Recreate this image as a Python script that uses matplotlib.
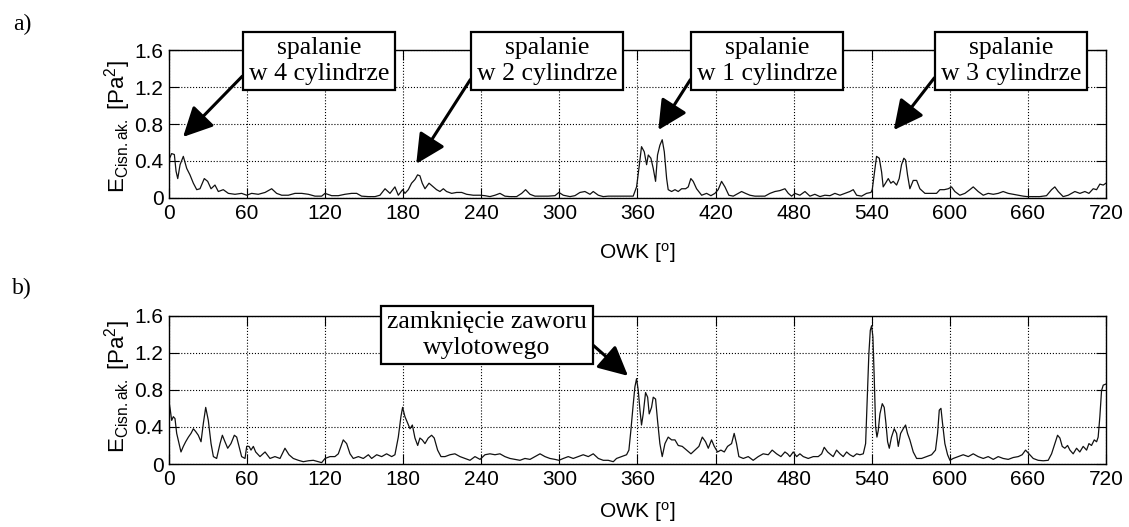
import matplotlib
matplotlib.use("Agg")
import matplotlib.pyplot as plt

plt.rcParams['font.family'] = ['Liberation Sans', 'DejaVu Sans']
plt.rcParams['mathtext.fontset'] = 'custom'
plt.rcParams['mathtext.rm'] = 'Liberation Sans'
plt.rcParams['mathtext.it'] = 'Liberation Sans:italic'

# panel a) - combustion in the cylinders
owk_a = [0, 0.5, 2.0, 4.1, 5.4, 6.7, 8.5, 11.0, 13.6, 16.1, 18.7, 21.3, 23.8, 27.1, 29.7,
         32.3, 35.3, 37.9, 41.7, 45.6, 50.7, 55.8, 59.7, 63.5, 68.6, 73.8, 78.9, 82.7, 86.6,
         91.7, 96.8, 102, 107.1, 112.2, 117.3, 119.9, 125, 130.1, 135.2, 140.3, 144.2, 148,
         153.2, 158.3, 162.1, 166, 169.8, 173.6, 176.2, 179.5, 181.3, 183.9, 186.4, 189, 191,
         192.8, 194.6, 196.7, 199.8, 203.1, 205.6, 208.2, 210.8, 213.3, 217.2, 221, 224.9,
         228.7, 233.8, 239,
         242.8, 246.6, 250.5, 254.3, 258.1, 262, 267.1, 271, 274, 277.4, 281.2, 286.3, 291.4,
         296.6, 299.6, 303, 308.1, 311.9, 315.8, 319.6, 323.5, 326, 329.9, 333.7, 337.5, 341.4,
         345.2, 350.4, 356.7, 359.3, 361.1, 363.1, 365.2, 367, 368.3, 370.3, 372.1, 373.9,
         375.4, 377.2, 379, 380.6, 382.4, 383.6, 386.2, 388.8, 391.3, 393.9, 397, 399, 401,
         402.8, 405.4, 409.3, 413.1, 416.4, 419.5, 422, 424.6, 427.2, 430.2, 433.6, 437.4, 440,
         443, 446.4, 450.2, 454.1, 457.9, 461.8, 465.6, 469.4, 473.3,
         475.9, 478.4, 481, 484.8, 488.7, 492.5, 496.3, 500.2, 504, 507.9, 511.7, 515.6, 519.4,
         523.2, 525.8, 528.4, 532.2, 536, 539.4, 540.4, 541.9, 543.7, 545.8, 547.6, 548.8,
         550.6, 552.7, 554.7, 556.5, 559.1, 561.1, 562.9, 564.7, 566, 567.5, 569.3, 571.9,
         574.5, 577, 580.9, 586, 589.8, 592.4, 595.7, 598.8, 601.3, 603.9, 607.7, 611.6, 615.4,
         618, 621.8, 625.7, 629.5, 633.4, 637.2, 641, 644.9, 648.7, 652.6, 656.4, 659.5, 664.1,
         669.2, 674.3, 678.2, 680.7, 683.3, 687.1, 691, 696.1, 700, 703.8, 706.9, 710.2, 712.8,
         715.3, 717.9, 720]
e_a = [0.25, 0.43, 0.48, 0.47, 0.29, 0.21, 0.36, 0.45, 0.32, 0.25, 0.16, 0.09, 0.10, 0.21, 0.18,
       0.10, 0.14, 0.07, 0.09, 0.05, 0.04, 0.05, 0.03, 0.05, 0.04, 0.06, 0.10, 0.05, 0.03,
       0.03, 0.05, 0.05, 0.04, 0.02, 0.02, 0.05, 0.025, 0.025, 0.04, 0.05, 0.05, 0.02,
       0.015, 0.015, 0.03, 0.10, 0.05, 0.12, 0.03, 0.09, 0.05, 0.09, 0.16, 0.20, 0.25,
       0.24, 0.16, 0.10, 0.16, 0.12, 0.09, 0.07, 0.10, 0.07, 0.05, 0.06, 0.06,
       0.04, 0.03, 0.03,
       0.025, 0.015, 0.03, 0.05, 0.02, 0.015, 0.015, 0.05, 0.09, 0.04, 0.02, 0.02, 0.02,
       0.025, 0.06, 0.03, 0.015, 0.025, 0.06, 0.07, 0.04, 0.07, 0.03, 0.015, 0.02, 0.02,
       0.02, 0.02, 0.02, 0.12, 0.32, 0.555, 0.50, 0.36, 0.465, 0.43, 0.32, 0.18,
       0.465, 0.57, 0.63, 0.50, 0.21, 0.09, 0.07, 0.09, 0.07, 0.10, 0.10, 0.12, 0.21,
       0.18, 0.10, 0.03, 0.05, 0.025, 0.05, 0.09, 0.18, 0.12, 0.03, 0.02, 0.05, 0.07,
       0.05, 0.03, 0.02, 0.02, 0.02, 0.05, 0.07, 0.08, 0.10,
       0.05, 0.02, 0.05, 0.03, 0.07, 0.02, 0.04, 0.015, 0.03, 0.025, 0.05, 0.03, 0.05,
       0.07, 0.09, 0.03, 0.02, 0.05, 0.06, 0.09, 0.25, 0.45, 0.43, 0.28, 0.12,
       0.16, 0.21, 0.16, 0.18, 0.14, 0.21, 0.36, 0.43, 0.41, 0.25, 0.10, 0.19,
       0.19, 0.10, 0.05, 0.05, 0.05, 0.09, 0.09, 0.10, 0.12, 0.07, 0.03, 0.05, 0.09,
       0.12, 0.07, 0.03, 0.05, 0.04, 0.05, 0.07, 0.05, 0.04, 0.03, 0.02, 0.015, 0.015,
       0.015, 0.025, 0.09, 0.12, 0.07, 0.015, 0.03, 0.07, 0.05, 0.07, 0.05, 0.10, 0.09,
       0.15, 0.14, 0.16]

# panel b) - exhaust valve closing
owk_b = [0, 1.0, 2.05, 3.3, 4.6, 5.9, 7.7, 9.2, 11, 12.8, 14.9, 16.9, 18.7, 20.5, 22.5, 24.6,
         26.4, 28.2, 30.2, 32.3, 34.1, 36.6, 39.2, 41, 43, 45.1, 47.6, 50.2, 52, 53.8, 55.8,
         58.4, 59.7, 61.5, 63, 64.8, 66.6, 69.9, 73.8, 77.6, 81.4, 85.3, 89.1, 92.2, 95.5,
         99.4, 103.2, 107.1, 110.9, 114.7, 117.3, 119.9, 123.7, 127.5, 130.1, 133.9, 136.5,
         139.1, 141.6, 145.5, 149.3, 153.2, 155.7, 159.6, 163.4, 167.2, 171.1, 173.6, 176.2,
         178.2, 179.5, 181.3, 183.4, 185.2, 187, 189, 191.1, 192.8, 194.6, 196.7, 199.2,
         201.8, 203.8, 206.4, 209, 212.1, 215.9, 219.7, 223.6, 227.4, 231.3, 235.1, 239,
         242.8, 246.6, 250.5, 254.3, 258.1, 262, 265.8, 269.7, 273.5, 277.4, 281.2, 285.1,
         288.9, 292.7, 296.6, 299.6, 303, 306.8, 310.6, 314.5, 318.3, 322.2, 326, 329.9,
         333.7, 337.5, 341.4, 343.9, 347.8, 351.6, 353.4, 354.9, 356.5, 358, 359.3, 360.6,
         361.9, 363.1, 364.4, 366.2, 367.8, 369, 370.8, 372.1, 373.9, 375.4, 377.2, 379,
         381.1, 383.6, 386.2, 388.8, 391.3, 394.4, 397.7, 401.1, 404.1, 407.2, 409.8, 412.3,
         414.4, 416.9, 419, 421.5, 424.1, 426.7, 429.2, 432.3, 434.3, 436.1, 437.9, 441.3,
         445.1, 448.9, 452.8, 456.6, 460.5, 463.5, 466.9, 470.2, 473.3,
         475.3, 477.1, 479.7, 482.3, 484.8, 487.4, 491.2, 495.1, 498.9, 501.5, 503.5, 506.1,
         508.6, 510.4, 513, 515.6, 518.1, 520.7, 523.2, 525.8, 528.4, 530.9, 533.5, 535.3,
         536.8, 537.8, 538.9, 539.9, 540.9, 541.9, 543, 544, 545, 546.3, 548.1, 549.6, 550.9,
         552.2, 553.5, 555.2, 557.3, 559.1, 560.4, 562.2, 564.2, 566, 567.5, 569.3, 571.9,
         574.5, 578.3, 582.1, 586, 589, 590.6, 591.9, 593.2, 594.4, 596.2, 598.3, 600.1,
         602.6, 606.5, 610.3, 614.2, 618, 621.8, 625.7, 629.5, 633.4, 637.2, 641, 644.9,
         648.7, 652.6, 655.6, 658.2, 660.8, 664.1, 667.9, 671.8, 675.6, 678.2, 680.7, 682.8,
         684.6, 686.4, 688.4, 690.5, 692.3, 694.8, 697.4, 699.9, 702.5, 705.1, 706.9, 708.9,
         711, 712.8, 714, 715.3, 716.6, 717.9, 719.7]
e_b = [0.67, 0.58, 0.47, 0.51, 0.49, 0.33, 0.22, 0.13, 0.19, 0.24, 0.29, 0.33, 0.38, 0.35, 0.31,
       0.24, 0.44, 0.61, 0.47, 0.22, 0.08, 0.06, 0.22, 0.31, 0.24, 0.17, 0.22, 0.31, 0.29,
       0.19, 0.08, 0.06, 0.19, 0.19, 0.15, 0.19, 0.13, 0.08, 0.13, 0.06, 0.08, 0.06, 0.17,
       0.10, 0.06, 0.04, 0.025, 0.035, 0.04, 0.025, 0.015, 0.06, 0.08, 0.08, 0.11, 0.26,
       0.22, 0.11, 0.06, 0.08, 0.06, 0.10, 0.06, 0.10, 0.08, 0.11, 0.08, 0.10, 0.29,
       0.51, 0.61, 0.51, 0.44, 0.38, 0.42, 0.28, 0.20, 0.28, 0.26, 0.22, 0.28,
       0.31, 0.28, 0.15, 0.08, 0.08, 0.10, 0.11, 0.08, 0.06, 0.04, 0.08, 0.05,
       0.10, 0.11, 0.10, 0.11, 0.08, 0.06, 0.05, 0.04, 0.06, 0.05, 0.08, 0.11,
       0.08, 0.06, 0.05, 0.04, 0.06, 0.08, 0.06, 0.08, 0.10, 0.08, 0.11, 0.06,
       0.04, 0.04, 0.025, 0.06, 0.08, 0.10, 0.15, 0.36, 0.61, 0.83, 0.92, 0.79,
       0.58, 0.42, 0.54, 0.77, 0.72, 0.54, 0.61, 0.72, 0.70, 0.47, 0.22, 0.08,
       0.22, 0.29, 0.26, 0.26, 0.20, 0.19, 0.15, 0.11, 0.15, 0.19, 0.29, 0.24,
       0.17, 0.26, 0.19, 0.13, 0.15, 0.13, 0.19, 0.22, 0.33, 0.22, 0.08, 0.06,
       0.08, 0.04, 0.08, 0.11, 0.10, 0.15, 0.11, 0.08, 0.13,
       0.11, 0.08, 0.13, 0.08, 0.11, 0.08, 0.06, 0.08, 0.08, 0.11, 0.18, 0.13,
       0.10, 0.08, 0.15, 0.11, 0.08, 0.13, 0.10, 0.08, 0.11, 0.10, 0.11, 0.22,
       0.79, 1.19, 1.44, 1.49, 1.37, 0.94, 0.40, 0.29, 0.36, 0.54, 0.65, 0.61, 0.44,
       0.24, 0.17, 0.29, 0.38, 0.33, 0.19, 0.33, 0.38, 0.42, 0.33, 0.26, 0.13,
       0.06, 0.06, 0.08, 0.10, 0.15, 0.33, 0.58, 0.60, 0.44, 0.22, 0.10, 0.04,
       0.06, 0.08, 0.10, 0.08, 0.11, 0.08, 0.06, 0.08, 0.05, 0.08, 0.06, 0.05,
       0.07, 0.08, 0.10, 0.15, 0.11, 0.06, 0.04, 0.035, 0.04, 0.11, 0.22, 0.31,
       0.28, 0.19, 0.17, 0.20, 0.15, 0.11, 0.17, 0.13, 0.19, 0.15, 0.22, 0.20,
       0.26, 0.24, 0.29, 0.51, 0.79, 0.85, 0.86]

x_ticks = [0, 60, 120, 180, 240, 300, 360, 420, 480, 540, 600, 660, 720]
y_ticks = [0, 0.4, 0.8, 1.2, 1.6]
y_tick_labels = ['0', '0.4', '0.8', '1.2', '1.6']

labels_a = ['spalanie\nw 4 cylindrze', 'spalanie\nw 2 cylindrze',
            'spalanie\nw 1 cylindrze', 'spalanie\nw 3 cylindrze']
tips_a = [(10.8, 0.66), (190, 0.37), (376, 0.735), (557, 0.735)]
label_b = 'zamknięcie zaworu\nwylotowego'
tip_b = (352.7, 0.95)

serif = ['Liberation Serif', 'DejaVu Serif']


def setup_axes(ax, ylab_y, xlab_pad):
    ax.set_xlim(0, 720)
    ax.set_ylim(0, 1.6)
    ax.set_xticks(x_ticks)
    ax.set_yticks(y_ticks)
    ax.set_yticklabels(y_tick_labels)
    ax.tick_params(direction='in', length=7, width=0.8, top=True, right=True,
                   labelsize=15, pad=4)
    ax.grid(True, color='black', linestyle=':', linewidth=0.8)
    for sp in ax.spines.values():
        sp.set_linewidth(1.0)
    ax.set_xlabel('OWK [$^{\\mathrm{o}}$]', fontsize=15, labelpad=xlab_pad)
    ax.set_ylabel('E$_{\\mathrm{Cisn{.}ak.}}$ [Pa$^{\\mathrm{2}}$]', fontsize=16)
    ax.yaxis.set_label_coords(-0.038, ylab_y)


def box_note(ax, text, tip, pos, relpos):
    ax.annotate(text, xy=tip, xycoords='data', xytext=pos, textcoords='figure pixels',
                ha='center', va='center', fontsize=18.5, family=serif, linespacing=1.2,
                annotation_clip=False, zorder=5,
                bbox=dict(boxstyle='square,pad=0.22', fc='white', ec='black', lw=1.6),
                arrowprops=dict(arrowstyle='-|>,head_length=1.0,head_width=0.5',
                                lw=2.2, color='black', relpos=relpos,
                                shrinkA=0, shrinkB=0, mutation_scale=18))


fig = plt.figure(figsize=(11.29, 5.27), dpi=100)
ax_a = fig.add_axes([0.1497, 0.6243, 0.8299, 0.2808])
ax_b = fig.add_axes([0.1497, 0.1195, 0.8299, 0.2818])

ax_a.plot(owk_a, e_a, color='#111111', lw=0.9)
ax_b.plot(owk_b, e_b, color='#111111', lw=0.9)
setup_axes(ax_a, 0.48, 13)
setup_axes(ax_b, 0.52, 8)

box_pos_a = [(319, 466), (547, 466), (767, 466), (1011, 466)]
for text, tip, pos in zip(labels_a, tips_a, box_pos_a):
    box_note(ax_a, text, tip, pos, (0, 0.32))
box_note(ax_b, label_b, tip_b, (487, 192), (1, 0.4))

fig.text(0.012, 0.954, 'a)', fontsize=17, family=serif, va='center')
fig.text(0.011, 0.4535, 'b)', fontsize=17, family=serif, va='center')

fig.savefig('out.png', dpi=100)
